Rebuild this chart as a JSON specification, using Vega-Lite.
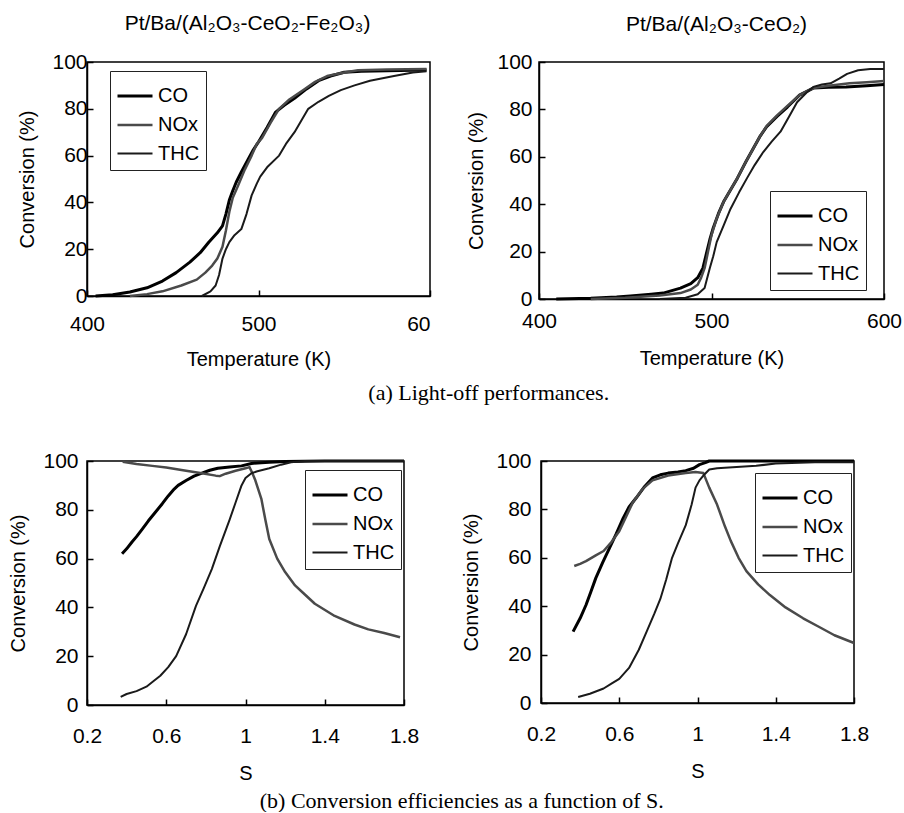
{
  "$schema": "https://vega.github.io/schema/vega-lite/v6.json",
  "background": "white",
  "padding": {"left": 8, "top": 12, "right": 4, "bottom": 0},
  "config": {
    "font": "Liberation Sans",
    "view": {"stroke": "black", "strokeWidth": 1.5},
    "axis": {
      "grid": false, "domainColor": "black", "domainWidth": 1.5, "tickColor": "black", "tickWidth": 1.5, "tickSize": -6,
      "labelFont": "Liberation Sans", "labelFontSize": 21, "labelColor": "black",
      "titleFont": "Liberation Sans", "titleFontSize": 20, "titleFontWeight": "normal", "titleColor": "black",
      "labelFlush": false, "labelOverlap": false
    },
    "legend": {
      "symbolType": "stroke", "symbolSize": 1225, "labelFont": "Liberation Sans", "labelFontSize": 20, "labelColor": "black",
      "strokeColor": "#222", "fillColor": "white", "padding": 6, "rowPadding": -3, "labelOffset": 4, "symbolStrokeColor": "black"
    },
    "title": {"font": "Liberation Sans", "fontSize": 21, "fontWeight": "normal", "color": "black"},
    "line": {"strokeJoin": "round"}
  },
  "datasets": {
    "tl": [
      {"s":"CO","x":405,"y":0},{"s":"CO","x":415,"y":0.5},{"s":"CO","x":425,"y":1.7},{"s":"CO","x":435,"y":3.5},{"s":"CO","x":444,"y":6.4},{"s":"CO","x":452,"y":10},{"s":"CO","x":460,"y":14.5},{"s":"CO","x":466,"y":18.5},{"s":"CO","x":471,"y":23},{"s":"CO","x":476,"y":27},{"s":"CO","x":479,"y":30},{"s":"CO","x":481,"y":35},{"s":"CO","x":483,"y":41},{"s":"CO","x":485,"y":45},{"s":"CO","x":487,"y":48.6},{"s":"CO","x":490,"y":53},{"s":"CO","x":494,"y":58.5},{"s":"CO","x":497,"y":62.5},{"s":"CO","x":500,"y":65.8},{"s":"CO","x":505,"y":72},{"s":"CO","x":510,"y":78.6},{"s":"CO","x":515,"y":81.5},{"s":"CO","x":521,"y":84.5},{"s":"CO","x":528,"y":88.5},{"s":"CO","x":535,"y":92},{"s":"CO","x":542,"y":94},{"s":"CO","x":550,"y":95.6},{"s":"CO","x":560,"y":96},{"s":"CO","x":575,"y":96.3},{"s":"CO","x":590,"y":96.5},{"s":"CO","x":598,"y":96.6},
      {"s":"NOx","x":425,"y":0},{"s":"NOx","x":435,"y":0.8},{"s":"NOx","x":444,"y":2},{"s":"NOx","x":455,"y":4.5},{"s":"NOx","x":464,"y":7},{"s":"NOx","x":469,"y":10},{"s":"NOx","x":473,"y":13},{"s":"NOx","x":476,"y":16},{"s":"NOx","x":479,"y":21},{"s":"NOx","x":481,"y":28},{"s":"NOx","x":483,"y":36},{"s":"NOx","x":485,"y":42},{"s":"NOx","x":488,"y":47},{"s":"NOx","x":492,"y":54},{"s":"NOx","x":496,"y":60},{"s":"NOx","x":499,"y":65},{"s":"NOx","x":502,"y":67.5},{"s":"NOx","x":507,"y":74},{"s":"NOx","x":512,"y":80},{"s":"NOx","x":518,"y":84},{"s":"NOx","x":527,"y":88.5},{"s":"NOx","x":533,"y":91.5},{"s":"NOx","x":540,"y":94},{"s":"NOx","x":550,"y":95.5},{"s":"NOx","x":558,"y":96.5},{"s":"NOx","x":575,"y":96.8},{"s":"NOx","x":598,"y":97},
      {"s":"THC","x":467,"y":0},{"s":"THC","x":472,"y":2},{"s":"THC","x":475,"y":4.5},{"s":"THC","x":477,"y":9},{"s":"THC","x":479,"y":16},{"s":"THC","x":481,"y":20},{"s":"THC","x":483,"y":23},{"s":"THC","x":486,"y":26},{"s":"THC","x":490,"y":28.6},{"s":"THC","x":493,"y":35},{"s":"THC","x":496,"y":43},{"s":"THC","x":499,"y":48},{"s":"THC","x":501,"y":51},{"s":"THC","x":505,"y":55},{"s":"THC","x":512,"y":60},{"s":"THC","x":516,"y":65},{"s":"THC","x":521,"y":70},{"s":"THC","x":525,"y":75},{"s":"THC","x":529,"y":80},{"s":"THC","x":535,"y":83},{"s":"THC","x":541,"y":85.5},{"s":"THC","x":548,"y":88},{"s":"THC","x":556,"y":90},{"s":"THC","x":565,"y":92},{"s":"THC","x":579,"y":94},{"s":"THC","x":590,"y":95.5},{"s":"THC","x":598,"y":96}
    ],
    "tr": [
      {"s":"CO","x":410,"y":0},{"s":"CO","x":430,"y":0.3},{"s":"CO","x":445,"y":0.8},{"s":"CO","x":453,"y":1.3},{"s":"CO","x":465,"y":2},{"s":"CO","x":472,"y":2.5},{"s":"CO","x":482,"y":4.6},{"s":"CO","x":488,"y":6.5},{"s":"CO","x":492,"y":9},{"s":"CO","x":495,"y":13},{"s":"CO","x":497,"y":19},{"s":"CO","x":499,"y":25},{"s":"CO","x":501,"y":30},{"s":"CO","x":504,"y":36},{"s":"CO","x":507,"y":41},{"s":"CO","x":511,"y":46},{"s":"CO","x":515,"y":51},{"s":"CO","x":520,"y":58},{"s":"CO","x":524.6,"y":64},{"s":"CO","x":528,"y":68.5},{"s":"CO","x":532,"y":72.7},{"s":"CO","x":538,"y":77},{"s":"CO","x":544,"y":81},{"s":"CO","x":551,"y":86},{"s":"CO","x":559,"y":89},{"s":"CO","x":568,"y":89.3},{"s":"CO","x":578,"y":89.5},{"s":"CO","x":590,"y":90},{"s":"CO","x":600,"y":90.5},
      {"s":"NOx","x":430,"y":0},{"s":"NOx","x":450,"y":0.5},{"s":"NOx","x":470,"y":1.5},{"s":"NOx","x":482,"y":2.5},{"s":"NOx","x":488,"y":4},{"s":"NOx","x":492,"y":6},{"s":"NOx","x":494,"y":9},{"s":"NOx","x":496,"y":13},{"s":"NOx","x":498,"y":20},{"s":"NOx","x":500,"y":27},{"s":"NOx","x":503,"y":34},{"s":"NOx","x":507,"y":41},{"s":"NOx","x":511,"y":46},{"s":"NOx","x":515,"y":51},{"s":"NOx","x":520,"y":58},{"s":"NOx","x":524.6,"y":64},{"s":"NOx","x":528,"y":68.5},{"s":"NOx","x":532,"y":73},{"s":"NOx","x":538,"y":77.5},{"s":"NOx","x":544,"y":81.5},{"s":"NOx","x":551,"y":86},{"s":"NOx","x":559,"y":89},{"s":"NOx","x":568,"y":90},{"s":"NOx","x":580,"y":91},{"s":"NOx","x":590,"y":91.5},{"s":"NOx","x":600,"y":92},
      {"s":"THC","x":470,"y":0},{"s":"THC","x":485,"y":0.5},{"s":"THC","x":492,"y":2},{"s":"THC","x":496,"y":4.6},{"s":"THC","x":499,"y":13},{"s":"THC","x":501,"y":18},{"s":"THC","x":503,"y":24},{"s":"THC","x":507,"y":31},{"s":"THC","x":511,"y":38},{"s":"THC","x":516,"y":45},{"s":"THC","x":520.6,"y":51},{"s":"THC","x":525,"y":56.5},{"s":"THC","x":530,"y":62},{"s":"THC","x":535,"y":66.5},{"s":"THC","x":540,"y":70.6},{"s":"THC","x":545,"y":77},{"s":"THC","x":549.6,"y":83},{"s":"THC","x":555,"y":87},{"s":"THC","x":559,"y":89.5},{"s":"THC","x":564,"y":90.5},{"s":"THC","x":569,"y":91},{"s":"THC","x":574,"y":93},{"s":"THC","x":578.6,"y":95},{"s":"THC","x":585,"y":96.5},{"s":"THC","x":592,"y":97},{"s":"THC","x":600,"y":97}
    ],
    "bl": [
      {"s":"CO","x":0.377,"y":62},{"s":"CO","x":0.4,"y":64},{"s":"CO","x":0.427,"y":66.8},{"s":"CO","x":0.45,"y":69},{"s":"CO","x":0.478,"y":72},{"s":"CO","x":0.51,"y":75.5},{"s":"CO","x":0.545,"y":79},{"s":"CO","x":0.58,"y":82.5},{"s":"CO","x":0.61,"y":85.7},{"s":"CO","x":0.64,"y":88.5},{"s":"CO","x":0.66,"y":90},{"s":"CO","x":0.7,"y":92},{"s":"CO","x":0.74,"y":93.8},{"s":"CO","x":0.78,"y":95},{"s":"CO","x":0.82,"y":96.2},{"s":"CO","x":0.86,"y":97},{"s":"CO","x":0.92,"y":97.5},{"s":"CO","x":0.98,"y":98},{"s":"CO","x":1.03,"y":99},{"s":"CO","x":1.08,"y":99.3},{"s":"CO","x":1.12,"y":99.5},{"s":"CO","x":1.2,"y":99.8},{"s":"CO","x":1.4,"y":100},{"s":"CO","x":1.6,"y":100},{"s":"CO","x":1.8,"y":100},
      {"s":"NOx","x":0.38,"y":99.7},{"s":"NOx","x":0.45,"y":98.8},{"s":"NOx","x":0.53,"y":98},{"s":"NOx","x":0.6,"y":97.3},{"s":"NOx","x":0.7,"y":96},{"s":"NOx","x":0.78,"y":95},{"s":"NOx","x":0.85,"y":94},{"s":"NOx","x":0.87,"y":93.8},{"s":"NOx","x":0.9,"y":94.8},{"s":"NOx","x":0.95,"y":96},{"s":"NOx","x":1.0,"y":97},{"s":"NOx","x":1.02,"y":97.5},{"s":"NOx","x":1.035,"y":95},{"s":"NOx","x":1.05,"y":92},{"s":"NOx","x":1.08,"y":84.5},{"s":"NOx","x":1.1,"y":76},{"s":"NOx","x":1.12,"y":68},{"s":"NOx","x":1.16,"y":60},{"s":"NOx","x":1.2,"y":54.5},{"s":"NOx","x":1.25,"y":49},{"s":"NOx","x":1.29,"y":46},{"s":"NOx","x":1.35,"y":41.5},{"s":"NOx","x":1.45,"y":36.5},{"s":"NOx","x":1.55,"y":33},{"s":"NOx","x":1.62,"y":31},{"s":"NOx","x":1.7,"y":29.5},{"s":"NOx","x":1.78,"y":27.8},
      {"s":"THC","x":0.37,"y":3.3},{"s":"THC","x":0.4,"y":4.5},{"s":"THC","x":0.45,"y":5.7},{"s":"THC","x":0.5,"y":7.5},{"s":"THC","x":0.53,"y":9.4},{"s":"THC","x":0.57,"y":12},{"s":"THC","x":0.61,"y":15.5},{"s":"THC","x":0.65,"y":20},{"s":"THC","x":0.7,"y":29},{"s":"THC","x":0.75,"y":40.6},{"s":"THC","x":0.79,"y":48},{"s":"THC","x":0.83,"y":55.7},{"s":"THC","x":0.87,"y":65},{"s":"THC","x":0.92,"y":76},{"s":"THC","x":0.95,"y":83},{"s":"THC","x":0.98,"y":90},{"s":"THC","x":1.0,"y":93},{"s":"THC","x":1.03,"y":95},{"s":"THC","x":1.06,"y":95.8},{"s":"THC","x":1.12,"y":97},{"s":"THC","x":1.18,"y":98.5},{"s":"THC","x":1.23,"y":99.5},{"s":"THC","x":1.3,"y":100},{"s":"THC","x":1.5,"y":100},{"s":"THC","x":1.8,"y":100}
    ],
    "br": [
      {"s":"CO","x":0.364,"y":29.5},{"s":"CO","x":0.4,"y":35},{"s":"CO","x":0.43,"y":40.5},{"s":"CO","x":0.455,"y":46},{"s":"CO","x":0.48,"y":51.6},{"s":"CO","x":0.515,"y":58},{"s":"CO","x":0.55,"y":64},{"s":"CO","x":0.585,"y":70},{"s":"CO","x":0.62,"y":76.4},{"s":"CO","x":0.65,"y":81},{"s":"CO","x":0.686,"y":84.7},{"s":"CO","x":0.73,"y":89.5},{"s":"CO","x":0.77,"y":93},{"s":"CO","x":0.81,"y":94.3},{"s":"CO","x":0.85,"y":95},{"s":"CO","x":0.9,"y":95.5},{"s":"CO","x":0.94,"y":96},{"s":"CO","x":0.98,"y":97},{"s":"CO","x":1.01,"y":98.5},{"s":"CO","x":1.04,"y":99.3},{"s":"CO","x":1.06,"y":100},{"s":"CO","x":1.3,"y":100},{"s":"CO","x":1.8,"y":100},
      {"s":"NOx","x":0.37,"y":56.6},{"s":"NOx","x":0.4,"y":57.5},{"s":"NOx","x":0.43,"y":58.6},{"s":"NOx","x":0.48,"y":61},{"s":"NOx","x":0.52,"y":62.8},{"s":"NOx","x":0.56,"y":66.5},{"s":"NOx","x":0.6,"y":71},{"s":"NOx","x":0.635,"y":77},{"s":"NOx","x":0.67,"y":83},{"s":"NOx","x":0.72,"y":88.5},{"s":"NOx","x":0.77,"y":92},{"s":"NOx","x":0.85,"y":94},{"s":"NOx","x":0.94,"y":95},{"s":"NOx","x":0.99,"y":95.5},{"s":"NOx","x":1.03,"y":95},{"s":"NOx","x":1.06,"y":89},{"s":"NOx","x":1.1,"y":82},{"s":"NOx","x":1.14,"y":73},{"s":"NOx","x":1.17,"y":67},{"s":"NOx","x":1.21,"y":60},{"s":"NOx","x":1.25,"y":54.5},{"s":"NOx","x":1.31,"y":49},{"s":"NOx","x":1.37,"y":44.6},{"s":"NOx","x":1.45,"y":39.5},{"s":"NOx","x":1.54,"y":35},{"s":"NOx","x":1.62,"y":31.5},{"s":"NOx","x":1.7,"y":28},{"s":"NOx","x":1.8,"y":24.8},
      {"s":"THC","x":0.39,"y":2.5},{"s":"THC","x":0.45,"y":3.8},{"s":"THC","x":0.52,"y":6},{"s":"THC","x":0.56,"y":8},{"s":"THC","x":0.6,"y":10},{"s":"THC","x":0.65,"y":14.5},{"s":"THC","x":0.7,"y":22},{"s":"THC","x":0.74,"y":29.5},{"s":"THC","x":0.78,"y":37},{"s":"THC","x":0.81,"y":43},{"s":"THC","x":0.84,"y":51},{"s":"THC","x":0.87,"y":60},{"s":"THC","x":0.9,"y":66},{"s":"THC","x":0.94,"y":73.5},{"s":"THC","x":0.97,"y":82},{"s":"THC","x":0.99,"y":89},{"s":"THC","x":1.01,"y":92},{"s":"THC","x":1.03,"y":94},{"s":"THC","x":1.06,"y":96.5},{"s":"THC","x":1.1,"y":97},{"s":"THC","x":1.2,"y":97.5},{"s":"THC","x":1.3,"y":98},{"s":"THC","x":1.4,"y":99},{"s":"THC","x":1.6,"y":99.5},{"s":"THC","x":1.8,"y":99.5}
    ]
  },
  "resolve": {"scale": {"color": "independent", "strokeWidth": "independent"}, "legend": {"color": "independent", "strokeWidth": "independent"}},
  "spacing": 45,
  "vconcat": [
    {
      "title": {"text": "(a) Light-off performances.", "orient": "bottom", "font": "Liberation Serif", "fontSize": 22, "anchor": "middle", "offset": 13, "dx": 29},
      "resolve": {"scale": {"color": "independent", "strokeWidth": "independent"}, "legend": {"color": "independent", "strokeWidth": "independent"}},
      "spacing": 34,
      "hconcat": [
        {
          "width": 343, "height": 234,
          "title": {"text": "Pt/Ba/(Al₂O₃-CeO₂-Fe₂O₃)", "offset": 17, "dx": -11},
          "data": {"name": "tl"},
          "mark": {"type": "line"},
          "encoding": {
            "x": {"field": "x", "type": "quantitative", "title": "Temperature (K)",
              "scale": {"domain": [400, 600], "nice": false, "zero": false},
              "axis": {"values": [400, 500, 600], "labelPadding": 23, "titlePadding": 15,
                "labelExpr": "datum.value == 600 ? '60' : datum.label",
                "labelAlign": {"condition": {"test": "datum.value == 600", "value": "right"}, "value": "center"}}},
            "y": {"field": "y", "type": "quantitative", "title": "Conversion (%)",
              "scale": {"domain": [0, 100], "nice": false},
              "axis": {"values": [0, 20, 40, 60, 80, 100], "labelPadding": 6, "titlePadding": 14}},
            "color": {"field": "s", "type": "nominal", "scale": {"domain": ["CO", "NOx", "THC"], "range": ["#000000", "#4a4a4a", "#1a1a1a"]},
              "legend": {"title": null, "orient": "none", "legendX": 23, "legendY": 9}},
            "strokeWidth": {"field": "s", "type": "nominal", "scale": {"domain": ["CO", "NOx", "THC"], "range": [3, 2, 1.2]},
              "legend": {"title": null, "orient": "none", "legendX": 23, "legendY": 9}}
          }
        },
        {
          "width": 345, "height": 237,
          "title": {"text": "Pt/Ba/(Al₂O₃-CeO₂)", "offset": 16, "dx": 5},
          "data": {"name": "tr"},
          "mark": {"type": "line"},
          "encoding": {
            "x": {"field": "x", "type": "quantitative", "title": "Temperature (K)",
              "scale": {"domain": [400, 600], "nice": false, "zero": false},
              "axis": {"values": [400, 500, 600], "labelPadding": 17, "titlePadding": 17}},
            "y": {"field": "y", "type": "quantitative", "title": "Conversion (%)",
              "scale": {"domain": [0, 100], "nice": false},
              "axis": {"values": [0, 20, 40, 60, 80, 100], "labelPadding": 13, "titlePadding": 10}},
            "color": {"field": "s", "type": "nominal", "scale": {"domain": ["CO", "NOx", "THC"], "range": ["#000000", "#4a4a4a", "#1a1a1a"]},
              "legend": {"title": null, "orient": "none", "legendX": 231, "legendY": 129}},
            "strokeWidth": {"field": "s", "type": "nominal", "scale": {"domain": ["CO", "NOx", "THC"], "range": [3, 2, 1.2]},
              "legend": {"title": null, "orient": "none", "legendX": 231, "legendY": 129}}
          }
        }
      ]
    },
    {
      "title": {"text": "(b) Conversion efficiencies as a function of S.", "orient": "bottom", "font": "Liberation Serif", "fontSize": 22, "anchor": "middle", "offset": 7, "dx": 23},
      "resolve": {"scale": {"color": "independent", "strokeWidth": "independent"}, "legend": {"color": "independent", "strokeWidth": "independent"}},
      "spacing": 41,
      "hconcat": [
        {
          "width": 317, "height": 244,
          "data": {"name": "bl"},
          "mark": {"type": "line"},
          "encoding": {
            "x": {"field": "x", "type": "quantitative", "title": "S",
              "scale": {"domain": [0.2, 1.8], "nice": false, "zero": false},
              "axis": {"values": [0.2, 0.6, 1, 1.4, 1.8], "format": "~g", "labelPadding": 26, "titlePadding": 17}},
            "y": {"field": "y", "type": "quantitative", "title": "Conversion (%)",
              "scale": {"domain": [0, 100], "nice": false},
              "axis": {"values": [0, 20, 40, 60, 80, 100], "labelPadding": 15, "titlePadding": 14}},
            "color": {"field": "s", "type": "nominal", "scale": {"domain": ["CO", "NOx", "THC"], "range": ["#000000", "#4a4a4a", "#1a1a1a"]},
              "legend": {"title": null, "orient": "none", "legendX": 218, "legendY": 9}},
            "strokeWidth": {"field": "s", "type": "nominal", "scale": {"domain": ["CO", "NOx", "THC"], "range": [3, 2, 1.2]},
              "legend": {"title": null, "orient": "none", "legendX": 218, "legendY": 9}}
          }
        },
        {
          "width": 313, "height": 242,
          "data": {"name": "br"},
          "mark": {"type": "line"},
          "encoding": {
            "x": {"field": "x", "type": "quantitative", "title": "S",
              "scale": {"domain": [0.2, 1.8], "nice": false, "zero": false},
              "axis": {"values": [0.2, 0.6, 1, 1.4, 1.8], "format": "~g", "labelPadding": 26, "titlePadding": 17}},
            "y": {"field": "y", "type": "quantitative", "title": "Conversion (%)",
              "scale": {"domain": [0, 100], "nice": false},
              "axis": {"values": [0, 20, 40, 60, 80, 100], "labelPadding": 16, "titlePadding": 14}},
            "color": {"field": "s", "type": "nominal", "scale": {"domain": ["CO", "NOx", "THC"], "range": ["#000000", "#4a4a4a", "#1a1a1a"]},
              "legend": {"title": null, "orient": "none", "legendX": 214, "legendY": 12}},
            "strokeWidth": {"field": "s", "type": "nominal", "scale": {"domain": ["CO", "NOx", "THC"], "range": [3, 2, 1.2]},
              "legend": {"title": null, "orient": "none", "legendX": 214, "legendY": 12}}
          }
        }
      ]
    }
  ]
}
